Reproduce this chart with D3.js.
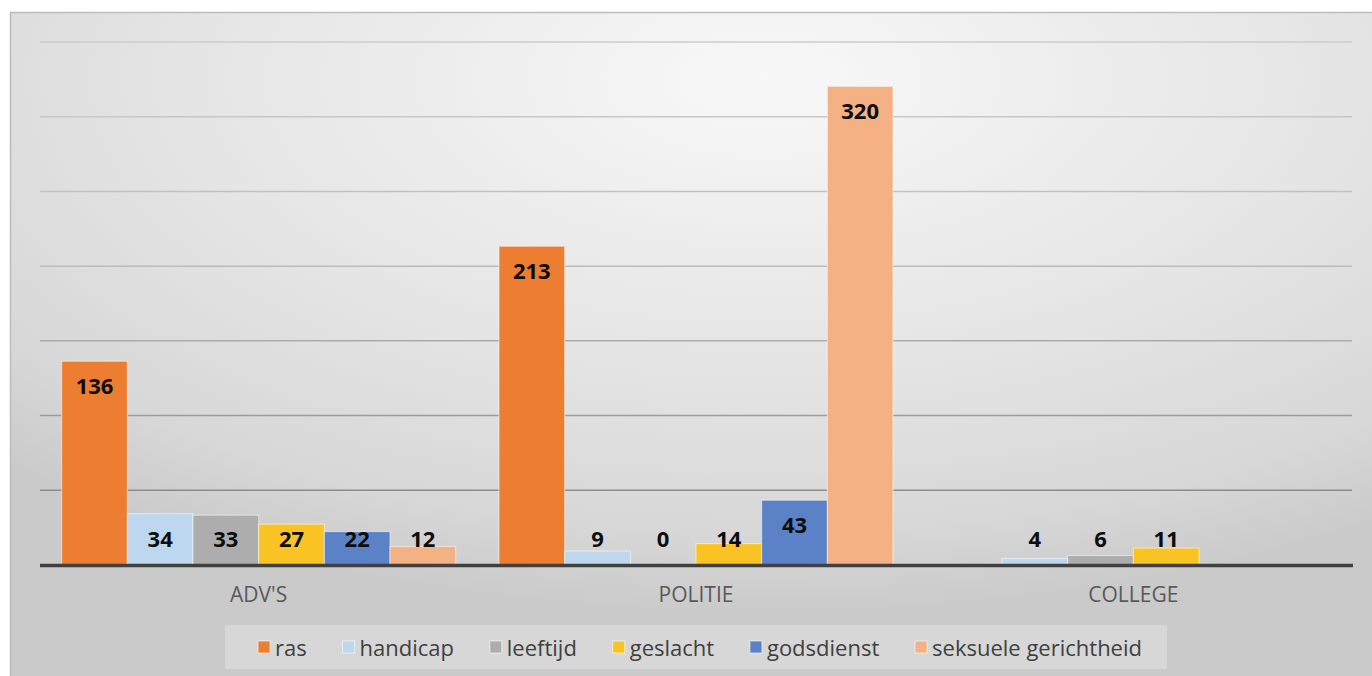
<!DOCTYPE html>
<html>
<head>
<meta charset="utf-8">
<script src="https://cdn.jsdelivr.net/npm/d3@7"></script>
<style>
  html, body { margin: 0; padding: 0; background: #fff; }
  svg { display: block; }
</style>
</head>
<body>
<svg id="chart" width="1372" height="676"></svg>
<script>
// data
var categories = ["ADV'S", "POLITIE", "COLLEGE"];
var seriesNames = ["ras", "handicap", "leeftijd", "geslacht", "godsdienst", "seksuele gerichtheid"];
var ras = [136, 213, null];
var handicap = [34, 9, 4];
var leeftijd = [33, 0, 6];
var geslacht = [27, 14, 11];
var godsdienst = [22, 43, null];
var seksueleGerichtheid = [12, 320, null];
var gridTicks = [50, 100, 150, 200, 250, 300, 350];

var seriesValues = [ras, handicap, leeftijd, geslacht, godsdienst, seksueleGerichtheid];
var colors = ["#ED7D31", "#BDD7EE", "#ADADAD", "#F9C423", "#5B82C7", "#F4B183"];

var svg = d3.select("#chart");
var defs = svg.append("defs");

// background gradient
var bg = defs.append("radialGradient")
  .attr("id", "bg")
  .attr("cx", 0.55).attr("cy", 0.1).attr("r", 0.8)
  .attr("fx", 0.55).attr("fy", 0.1);
bg.append("stop").attr("offset", "0%").attr("stop-color", "#F8F8F8");
bg.append("stop").attr("offset", "55%").attr("stop-color", "#E4E4E4");
bg.append("stop").attr("offset", "85%").attr("stop-color", "#D7D7D7");
bg.append("stop").attr("offset", "100%").attr("stop-color", "#CACACA");

svg.append("rect")
  .attr("x", 10.5).attr("y", 12.5)
  .attr("width", 1370).attr("height", 670)
  .attr("fill", "url(#bg)")
  .attr("stroke", "#BDBDBD")
  .attr("stroke-width", 1.5);

var left = 40, right = 1352;

var x = d3.scaleBand()
  .domain(categories)
  .range([left, right]);

var x1 = d3.scaleBand()
  .domain(seriesNames)
  .range([0, x.bandwidth()])
  .paddingOuter(0.33);

var y = d3.scaleLinear()
  .domain([0, 350])
  .range([564.5, 41.5]);

// gridlines get darker toward the bottom, like the reference
var gridColor = d3.scaleLinear()
  .domain([41, 265, 490])
  .range(["#CDCDCD", "#BBBBBB", "#8C8C8C"]);

var grid = svg.append("g")
  .attr("transform", "translate(" + left + ",0)")
  .call(d3.axisLeft(y).tickValues(gridTicks).tickSize(-(right - left)).tickFormat(""));
grid.select(".domain").remove();
grid.selectAll(".tick line")
  .attr("stroke", function(d){ return gridColor(y(d)); })
  .attr("stroke-width", 1.5);

// bars
var groups = svg.append("g").selectAll("g")
  .data(seriesNames)
  .join("g")
  .attr("fill", function(d, i){ return colors[i]; });

groups.each(function(name, si){
  var g = d3.select(this);
  var rows = categories.map(function(c, ci){ return {cat: c, value: seriesValues[si][ci]}; })
    .filter(function(d){ return d.value !== null; });

  g.selectAll("rect")
    .data(rows)
    .join("rect")
    .attr("x", function(d){ return x(d.cat) + x1(name); })
    .attr("y", function(d){ return y(d.value); })
    .attr("width", x1.bandwidth())
    .attr("height", function(d){ return y(0) - y(d.value); })
    .attr("stroke", "rgba(255,255,255,0.55)")
    .attr("stroke-width", 1);

  g.selectAll("text")
    .data(rows)
    .join("text")
    .attr("x", function(d){ return x(d.cat) + x1(name) + x1.bandwidth() / 2; })
    .attr("y", function(d){ return Math.min(y(d.value) + 33, 547); })
    .attr("text-anchor", "middle")
    .attr("font-family", "'Open Sans', sans-serif")
    .attr("font-weight", "bold")
    .attr("font-size", 22)
    .attr("fill", "#0D0D0D")
    .text(function(d){ return d.value; });
});

// baseline
svg.append("line")
  .attr("x1", left).attr("x2", right + 1)
  .attr("y1", y(0) + 1).attr("y2", y(0) + 1)
  .attr("stroke", "#404040")
  .attr("stroke-width", 3.5);

// category labels
svg.append("g").selectAll("text")
  .data(categories)
  .join("text")
  .attr("x", function(d){ return x(d) + x.bandwidth() / 2; })
  .attr("y", 602)
  .attr("text-anchor", "middle")
  .attr("font-family", "'Open Sans', sans-serif")
  .attr("font-size", 21)
  .attr("fill", "#595959")
  .text(function(d){ return d; });

// legend
svg.append("rect")
  .attr("x", 225).attr("y", 625)
  .attr("width", 942).attr("height", 44)
  .attr("fill", "rgba(255,255,255,0.25)");

var legend = svg.append("g");
var items = legend.selectAll("g")
  .data(seriesNames)
  .join("g");

items.append("rect")
  .attr("x", 0).attr("y", -15)
  .attr("width", 12).attr("height", 12)
  .attr("fill", function(d, i){ return colors[i]; })
  .attr("stroke", "rgba(255,255,255,0.6)")
  .attr("stroke-width", 1);

items.append("text")
  .attr("x", 17)
  .attr("y", 0)
  .attr("font-family", "'Open Sans', sans-serif")
  .attr("font-size", 22)
  .attr("fill", "#404040")
  .text(function(d){ return d; });

// spread items over the width the reference legend uses
var legendStart = 258, legendEnd = 1142;
var widths = [];
items.each(function(){
  widths.push(17 + d3.select(this).select("text").node().getComputedTextLength());
});
var gap = (legendEnd - legendStart - d3.sum(widths)) / (widths.length - 1);
var pos = legendStart;
var offsets = widths.map(function(w){ var p = pos; pos += w + gap; return p; });
items.attr("transform", function(d, i){ return "translate(" + offsets[i] + ",656)"; });
</script>
</body>
</html>
